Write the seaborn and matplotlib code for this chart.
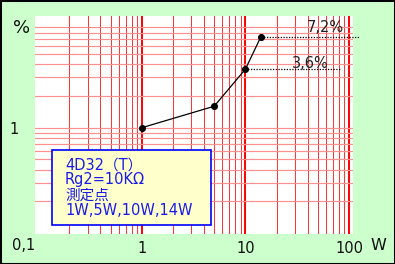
import matplotlib
matplotlib.use("Agg")
import matplotlib.pyplot as plt
import seaborn as sns
import pandas as pd
from matplotlib.patches import Rectangle
from matplotlib.ticker import LogLocator, NullFormatter

# ---- data ----
power_w = [1, 5, 10, 14]
distortion_pct = [1.0, 1.6, 3.6, 7.2]
x_tick_values = [1, 10, 100]
x_tick_labels = ["1", "10", "100"]
y_tick_values = [1]
y_tick_labels = ["1"]
note_lines = ["4D32（T）", "Rg2=10KΩ", "測定点", "1W,5W,10W,14W"]
callout_labels = ["7,2%", "3,6%"]

W, H = 395, 264
DPI = 100
fig = plt.figure(figsize=(W / DPI, H / DPI), dpi=DPI)
fig.patch.set_facecolor("#ccffcc")

def fx(x):
    return x / W

def fy(y):
    return 1 - y / H

plt.rcParams['font.family'] = ['DejaVu Sans', 'Noto Sans CJK JP']

ax = fig.add_axes([fx(35), fy(234), fx(353) - fx(35), fy(16) - fy(234)])
ax.set_facecolor("white")
ax.set_xscale("log")
ax.set_yscale("log")
ax.set_xlim(0.0935, 109)
ax.set_ylim(0.098, 11.5)

# grid
ax.set_axisbelow(True)
ax.xaxis.set_major_locator(LogLocator(base=10, numticks=10))
ax.xaxis.set_minor_locator(LogLocator(base=10, subs=range(2, 10), numticks=20))
ax.yaxis.set_major_locator(LogLocator(base=10, numticks=10))
ax.yaxis.set_minor_locator(LogLocator(base=10, subs=range(2, 10), numticks=20))
ax.yaxis.grid(True, which="both", color="#ff9090", lw=0.85, zorder=0)
ax.xaxis.grid(True, which="minor", color="#ff3030", lw=0.7, zorder=1)
ax.xaxis.grid(True, which="major", color="#ff0000", lw=1.4, zorder=1)

df = pd.DataFrame({"W": power_w, "pct": distortion_pct})
sns.lineplot(data=df, x="W", y="pct", ax=ax, color="black", lw=0.9,
             marker="o", markersize=4.3, markeredgecolor="black",
             markerfacecolor="black", zorder=5)

# dotted callout lines
ax.plot([power_w[3], 127], [distortion_pct[3]] * 2, color="black",
        ls=(0, (1, 1.2)), lw=0.9, clip_on=False, zorder=4)
ax.plot([power_w[2], 83.6], [distortion_pct[2]] * 2, color="black",
        ls=(0, (1, 1.2)), lw=0.9, clip_on=False, zorder=4)

fig.text(fx(325), fy(28), callout_labels[0], fontsize=10.5, color="#222222",
         ha="center", va="center")
fig.text(fx(310), fy(63), callout_labels[1], fontsize=10.5, color="#222222",
         ha="center", va="center")

# ticks
ax.set_xticks(x_tick_values)
ax.set_xticklabels(x_tick_labels)
ax.set_yticks(y_tick_values)
ax.set_yticklabels(y_tick_labels)
ax.xaxis.set_minor_formatter(NullFormatter())
ax.yaxis.set_minor_formatter(NullFormatter())
ax.tick_params(which="both", length=0)
ax.tick_params(axis="x", labelsize=10.5, pad=5, colors="#111111")
ax.tick_params(axis="y", labelsize=10.5, pad=12, colors="#111111")
for s in ax.spines.values():
    s.set_visible(False)
ax.set_xlabel("")
ax.set_ylabel("")

fig.text(fx(24), fy(246), "0,1", fontsize=10.5, ha="center", va="center", color="#111111")
fig.text(fx(378), fy(246), "W", fontsize=11.5, ha="center", va="center", color="#111111")
fig.text(fx(22), fy(28), "%", fontsize=13, ha="center", va="center", color="#111111")

# note box
fig.patches.append(Rectangle((fx(52), fy(225)), fx(211) - fx(52), fy(150) - fy(225),
                             transform=fig.transFigure, facecolor="#ffffcc",
                             edgecolor="#0000ff", lw=1.2, zorder=10))
fig.text(fx(65), fy(187.5), "\n".join(note_lines), fontsize=10.5, color="#1a1aee",
         ha="left", va="center", linespacing=1.02, zorder=11)

# figure border
fig.patches.append(Rectangle((0, 0), 1, 1, transform=fig.transFigure,
                             fill=False, edgecolor="black", lw=2.2, zorder=20))

fig.savefig("out.png", dpi=DPI)
